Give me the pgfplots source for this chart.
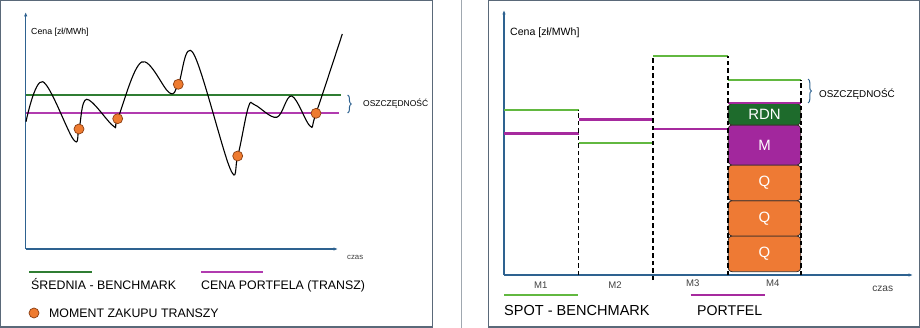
\documentclass[border=0pt]{standalone}
\usepackage{pgfplots}
\pgfplotsset{compat=1.18}
\usepackage{fontspec}
\setmainfont{Liberation Sans}
\usetikzlibrary{arrows.meta,decorations.pathreplacing}
\definecolor{frame}{HTML}{5A6979}
\definecolor{sepgray}{HTML}{A0A8B0}
\definecolor{axisblue}{HTML}{2E6290}
\definecolor{benchgreen}{HTML}{2F7D32}
\definecolor{portmag}{HTML}{B13BAF}
\definecolor{portmagr}{HTML}{A62A9E}
\definecolor{spotgreen}{HTML}{62B840}
\definecolor{dotorange}{HTML}{EE7B30}
\definecolor{dotedge}{HTML}{8B3E12}
\definecolor{rdngreen}{HTML}{1E6B2C}
\definecolor{mpurple}{HTML}{A2279D}
\definecolor{qorange}{HTML}{EE7A34}
\definecolor{boxedge}{HTML}{3B2F2A}
% box with rounded corners (radius 4 axis units) drawn as an \addplot
\newcommand{\rbox}[5]{%
 \pgfmathsetmacro\xa{#1}\pgfmathsetmacro\xb{#1+0.54}\pgfmathsetmacro\xc{#1+2}\pgfmathsetmacro\xd{#1+4}%
 \pgfmathsetmacro\xe{#3-4}\pgfmathsetmacro\xf{#3-2}\pgfmathsetmacro\xg{#3-0.54}\pgfmathsetmacro\xh{#3}%
 \pgfmathsetmacro\ya{#2}\pgfmathsetmacro\yb{#2+0.54}\pgfmathsetmacro\yc{#2+2}\pgfmathsetmacro\yd{#2+4}%
 \pgfmathsetmacro\ye{#4-4}\pgfmathsetmacro\yf{#4-2}\pgfmathsetmacro\yg{#4-0.54}\pgfmathsetmacro\yh{#4}%
 \addplot[fill=#5, draw=boxedge, line width=0.8bp] coordinates {
 (\xd,\ya) (\xe,\ya) (\xf,\yb) (\xg,\yc) (\xh,\yd) (\xh,\ye) (\xg,\yf) (\xf,\yg) (\xe,\yh)
 (\xd,\yh) (\xc,\yg) (\xb,\yf) (\xa,\ye) (\xa,\yd) (\xb,\yc) (\xc,\yb)} -- cycle;
}
\begin{document}
\begin{tikzpicture}
\path[use as bounding box] (0,0) rectangle (920bp,-328bp);
% frames
\draw[frame, line width=1.4bp] (0.7bp,-0.7bp) rectangle (432.5bp,-327bp);
\draw[sepgray, line width=1bp] (461bp,0) -- (461bp,-328bp);
\draw[frame, line width=1.4bp] (488.3bp,-0.7bp) rectangle (919.3bp,-327bp);

% ---------------- left panel ----------------
\begin{axis}[
  at={(25.7bp,-249bp)}, anchor=south west,
  scale only axis, width=312.3bp, height=237bp,
  xmin=0, xmax=312.3, ymin=0, ymax=237,
  axis lines=left, xtick=\empty, ytick=\empty,
  axis line style={draw=axisblue, line width=1.1bp, -{Latex[length=4.5bp,width=3.5bp]}},
  clip=false,
]
\addplot[benchgreen, line width=2.6bp] coordinates {(0,154) (315.3,154)};
\addplot[portmag, line width=2bp] coordinates {(0,136) (313.3,136)};
\addplot[black, line width=1.1bp, smooth, tension=0.6] coordinates {
(0.3,127.3) (17,167.3) (47.6,109.7) (53.3,120) (61,149.7) (87.6,123) (92,130.3)
(116,187) (143.6,156.3) (152.6,164.7) (167.6,195.7) (204.3,80.7) (212,93)
(222.6,141.7) (229.3,144) (251,131.7) (266,153) (284.3,123) (290.3,135.7) (316.6,215)};
\addplot[only marks, mark=*, mark size=5bp, mark options={fill=dotorange, draw=dotedge, line width=0.7bp}]
 coordinates {(53.3,120) (92,130.3) (152.6,164.7) (212,93) (290.3,135.7)};
\draw[axisblue, line width=1bp, decorate, decoration={brace, amplitude=3.5bp}] (axis cs:322,154) -- (axis cs:322,136);
\node[anchor=west, font=\fontsize{8.5}{9}\selectfont, inner sep=0] at (axis cs:337.3,145) {OSZCZĘDNOŚĆ};
\node[anchor=west, font=\fontsize{8.8}{9}\selectfont, inner sep=0] at (axis cs:5.3,217) {Cena [zł/MWh]};
\node[anchor=west, font=\fontsize{7.8}{9}\selectfont, inner sep=0, text=black!75] at (axis cs:321.3,-8) {czas};
% legend
\addplot[benchgreen, line width=2.2bp] coordinates {(3.3,-23) (66.3,-23)};
\node[anchor=west, font=\fontsize{12.4}{13}\selectfont, inner sep=0] at (axis cs:5.3,-35.5) {ŚREDNIA - BENCHMARK};
\addplot[portmag, line width=2.2bp] coordinates {(175.3,-23) (237.3,-23)};
\node[anchor=west, font=\fontsize{12.4}{13}\selectfont, inner sep=0] at (axis cs:175.3,-37.5) {CENA PORTFELA (TRANSZ)};
\addplot[only marks, mark=*, mark size=5bp, mark options={fill=dotorange, draw=dotedge, line width=0.7bp}]
 coordinates {(8.3,-64)};
\node[anchor=west, font=\fontsize{12.4}{13}\selectfont, inner sep=0] at (axis cs:23.3,-64) {MOMENT ZAKUPU TRANSZY};
\end{axis}

% ---------------- right panel ----------------
\begin{axis}[
  at={(504bp,-275bp)}, anchor=south west,
  scale only axis, width=409bp, height=265bp,
  xmin=0, xmax=409, ymin=0, ymax=265,
  axis lines=left, xtick=\empty, ytick=\empty,
  axis line style={draw=axisblue, line width=1.1bp, -{Latex[length=4.5bp,width=3.5bp]}},
  clip=false, unbounded coords=jump,
]
% stacked portfolio boxes in M4
\rbox{224.3}{3.3}{296.7}{39}{qorange}
\rbox{224.3}{39}{296.7}{74.3}{qorange}
\rbox{224.3}{74.3}{296.7}{110}{qorange}
\rbox{224.3}{110}{296.7}{150}{mpurple}
\rbox{224.3}{150}{296.7}{171.5}{rdngreen}
\node[text=white, font=\fontsize{15}{16}\selectfont] at (axis cs:260.5,161) {RDN};
\node[text=white, font=\fontsize{15}{16}\selectfont] at (axis cs:260.5,130) {M};
\node[text=white, font=\fontsize{15}{16}\selectfont] at (axis cs:260.5,92) {Q};
\node[text=white, font=\fontsize{15}{16}\selectfont] at (axis cs:260.5,56.7) {Q};
\node[text=white, font=\fontsize{15}{16}\selectfont] at (axis cs:260.5,21) {Q};
% spot benchmark (one plot per month)
\addplot[spotgreen, line width=2bp] coordinates {(0,165.5) (74.5,165.5)};
\addplot[spotgreen, line width=2bp] coordinates {(74.5,132.5) (149,132.5)};
\addplot[spotgreen, line width=2bp] coordinates {(149,219.5) (224.3,219.5)};
\addplot[spotgreen, line width=2bp] coordinates {(224.3,195.5) (296.7,195.5)};
% portfolio
\addplot[portmagr, line width=2.4bp] coordinates {
(0,141.7) (74.5,141.7) (74.5,nan)
(74.5,155.7) (149,155.7) (149,nan)
(149,146) (224.3,146) (224.3,nan)
(224.3,172.3) (296.7,172.3)};
% month separators
\addplot[black, line width=1.7bp, dash pattern=on 4.5bp off 3bp] coordinates {
(74.5,0) (74.5,165.5) (74.5,nan)
(149,-5) (149,219.5) (149,nan)
(224.3,0) (224.3,219.5) (224.3,nan)
(296.7,0) (296.7,195.5)};
\draw[axisblue, line width=1bp, decorate, decoration={brace, amplitude=3.5bp}] (axis cs:304,196) -- (axis cs:304,172);
\node[anchor=west, font=\fontsize{9.9}{10}\selectfont, inner sep=0] at (axis cs:315,181) {OSZCZĘDNOŚĆ};
\node[anchor=west, font=\fontsize{10.6}{11}\selectfont, inner sep=0] at (axis cs:6,242) {Cena [zł/MWh]};
\node[font=\fontsize{9.6}{10}\selectfont, inner sep=0, text=black!75] at (axis cs:36.7,-10) {M1};
\node[font=\fontsize{9.6}{10}\selectfont, inner sep=0, text=black!75] at (axis cs:111,-10) {M2};
\node[font=\fontsize{9.6}{10}\selectfont, inner sep=0, text=black!75] at (axis cs:188.7,-8) {M3};
\node[font=\fontsize{9.6}{10}\selectfont, inner sep=0, text=black!75] at (axis cs:268.7,-8) {M4};
\node[font=\fontsize{10.2}{11}\selectfont, inner sep=0, text=black!75] at (axis cs:378.7,-14) {czas};
% legend
\addplot[spotgreen, line width=2bp] coordinates {(0,-20) (74,-20)};
\node[anchor=west, font=\fontsize{14.6}{15}\selectfont, inner sep=0] at (axis cs:0,-35.7) {SPOT - BENCHMARK};
\addplot[portmagr, line width=2.2bp] coordinates {(186.7,-20) (261,-20)};
\node[anchor=west, font=\fontsize{14.2}{15}\selectfont, inner sep=0] at (axis cs:193,-35.7) {PORTFEL};
\end{axis}
\end{tikzpicture}
\end{document}
